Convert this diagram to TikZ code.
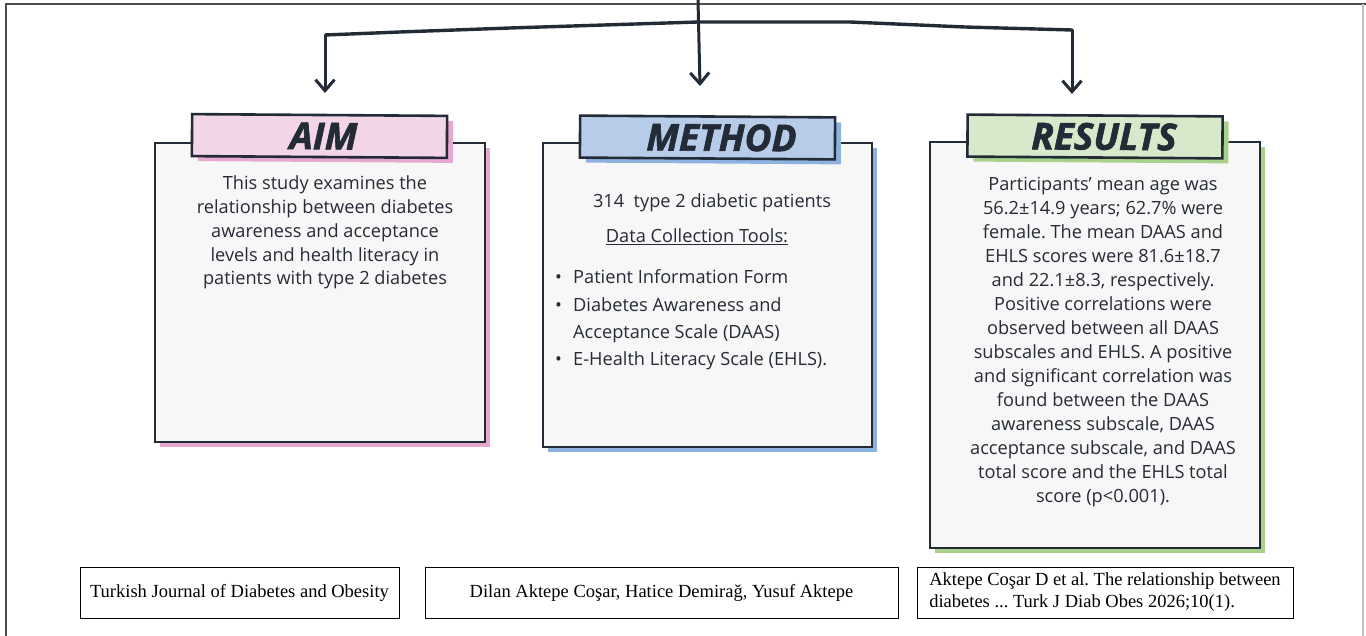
\documentclass[tikz,border=0pt]{standalone}
\usepackage{fontspec}
\setmainfont{Open Sans}
\newfontfamily\titlefont[BoldItalicFeatures={FakeBold=1.6}]{Open Sans}
\newfontfamily\journalfont{Liberation Serif}
\usetikzlibrary{arrows.meta,shadows}
\frenchspacing

\definecolor{ink}{HTML}{222B36}
\definecolor{bodytext}{HTML}{262B36}
\definecolor{paper}{HTML}{F7F7F7}
\definecolor{aimpink}{HTML}{F2D6E8}
\definecolor{aimshade}{HTML}{E6A8CF}
\definecolor{methodblue}{HTML}{B6CCE8}
\definecolor{methodshade}{HTML}{8EB2E0}
\definecolor{resultgreen}{HTML}{D6E9CA}
\definecolor{resultshade}{HTML}{A8D28A}

\tikzset{
  card/.style={draw=ink, fill=paper, line width=2.6pt, inner sep=0pt,
    general shadow={fill=#1, shadow xshift=5pt, shadow yshift=-5pt}},
  tab/.style n args={2}{draw=ink, fill=#1, line width=2.6pt, inner sep=0pt,
    minimum width=255pt, minimum height=42pt, text=ink,
    font=\titlefont\bfseries\itshape\fontsize{37}{37}\selectfont,
    general shadow={fill=#2, shadow xshift=6pt, shadow yshift=-5pt}},
  bodytxt/.style={text=bodytext, align=center, inner sep=0pt,
    font=\fontsize{18.2}{23.8}\selectfont},
  refbox/.style={draw=black, line width=0.9pt, fill=white, inner sep=0pt,
    minimum height=51pt, font=\journalfont\fontsize{18.5}{22}\selectfont,
    general shadow={fill=black!30, shadow xshift=1.2pt, shadow yshift=-1.2pt}},
  branch/.style={draw=ink, line width=3pt, line cap=round,
    -{Straight Barb[length=11pt,width=19pt,line width=3pt]}}
}

\begin{document}
\begin{tikzpicture}[x=1pt,y=-1pt]
\useasboundingbox (0,0) rectangle (1366,636);

% frame
\draw[black!70, line width=1.6pt] (6,636) -- (6,4) -- (1366,4);
\draw[black!25, line width=1.2pt] (1363,4) -- (1363,636);

% cards
\node[card=aimshade, minimum width=330pt, minimum height=299pt] (aimcard) at (320,292.5) {};
\node[card=methodshade, minimum width=329pt, minimum height=304pt] (methodcard) at (707.5,295) {};
\node[card=resultshade, minimum width=330pt, minimum height=406pt] (resultcard) at (1095,345) {};

\node[tab={aimpink}{aimshade}, rotate=-0.4] (aimtab) at (319.5,136) {\hspace*{8pt}AIM};
\node[tab={methodblue}{methodshade}, rotate=-0.4] (methodtab) at (707.5,137.5) {\hspace*{28pt}METHOD};
\node[tab={resultgreen}{resultshade}, rotate=-0.4] (resulttab) at (1095,136.5) {\hspace*{18pt}RESULTS};

% branches
\coordinate (top) at (698,0);
\coordinate (mid) at (698,22);
\coordinate (lcorner) at (325,35);
\coordinate (rcorner) at (1072,30);
\coordinate (aimtip) at (325,93);
\coordinate (methodtip) at (700,86);
\coordinate (resulttip) at (1072,94);
\draw[ink, line width=3.4pt, line join=round] (lcorner) -- (400,32) -- (510,28) -- (mid)
  -- (850,22) -- (965,27) -- (rcorner);
\draw[branch] (lcorner) -- (aimtip);
\draw[branch] (top) -- (methodtip);
\draw[branch] (rcorner) -- (resulttip);

% texts
\node[bodytxt] (aimtext) at (325,232.5) {This study examines the\\relationship between diabetes\\awareness and acceptance\\levels and health literacy in\\patients with type 2 diabetes};

\node[bodytxt] (count) at (712,203) {314\ \ type 2 diabetic patients};
\node[bodytxt] (toolshead) at (697,237) {\underline{Data Collection Tools:}};
\node[bodytxt, align=left, anchor=west, font=\fontsize{18.2}{27.3}\selectfont] (tools) at (555,320)
  {\makebox[18pt][l]{\textbullet}Patient Information Form\\
   \makebox[18pt][l]{\textbullet}Diabetes Awareness and\\
   \hspace*{18pt}Acceptance Scale (DAAS)\\
   \makebox[18pt][l]{\textbullet}E-Health Literacy Scale (EHLS).};

\node[bodytxt, font=\fontsize{18.2}{24}\selectfont] (resulttext) at (1103,342)
  {Participants’ mean age was\\56.2±14.9 years; 62.7\% were\\female. The mean DAAS and\\EHLS scores were 81.6±18.7\\and 22.1±8.3, respectively.\\Positive correlations were\\observed between all DAAS\\subscales and EHLS. A positive\\and significant correlation was\\found between the DAAS\\awareness subscale, DAAS\\acceptance subscale, and DAAS\\total score and the EHLS total\\score (p<0.001).};

% footer
\node[refbox, minimum width=319pt] (journal) at (239.5,592.5) {Turkish Journal of Diabetes and Obesity};
\node[refbox, minimum width=473pt] (authors) at (661.5,592.5) {Dilan Aktepe Coşar, Hatice Demirağ, Yusuf Aktepe};
\node[refbox, minimum width=376pt, align=left, font=\journalfont\fontsize{18.5}{22}\selectfont] (cite) at (1105,592.5)
  {Aktepe Coşar D et al. The relationship between\\diabetes ... Turk J Diab Obes 2026;10(1).};
\end{tikzpicture}
\end{document}
